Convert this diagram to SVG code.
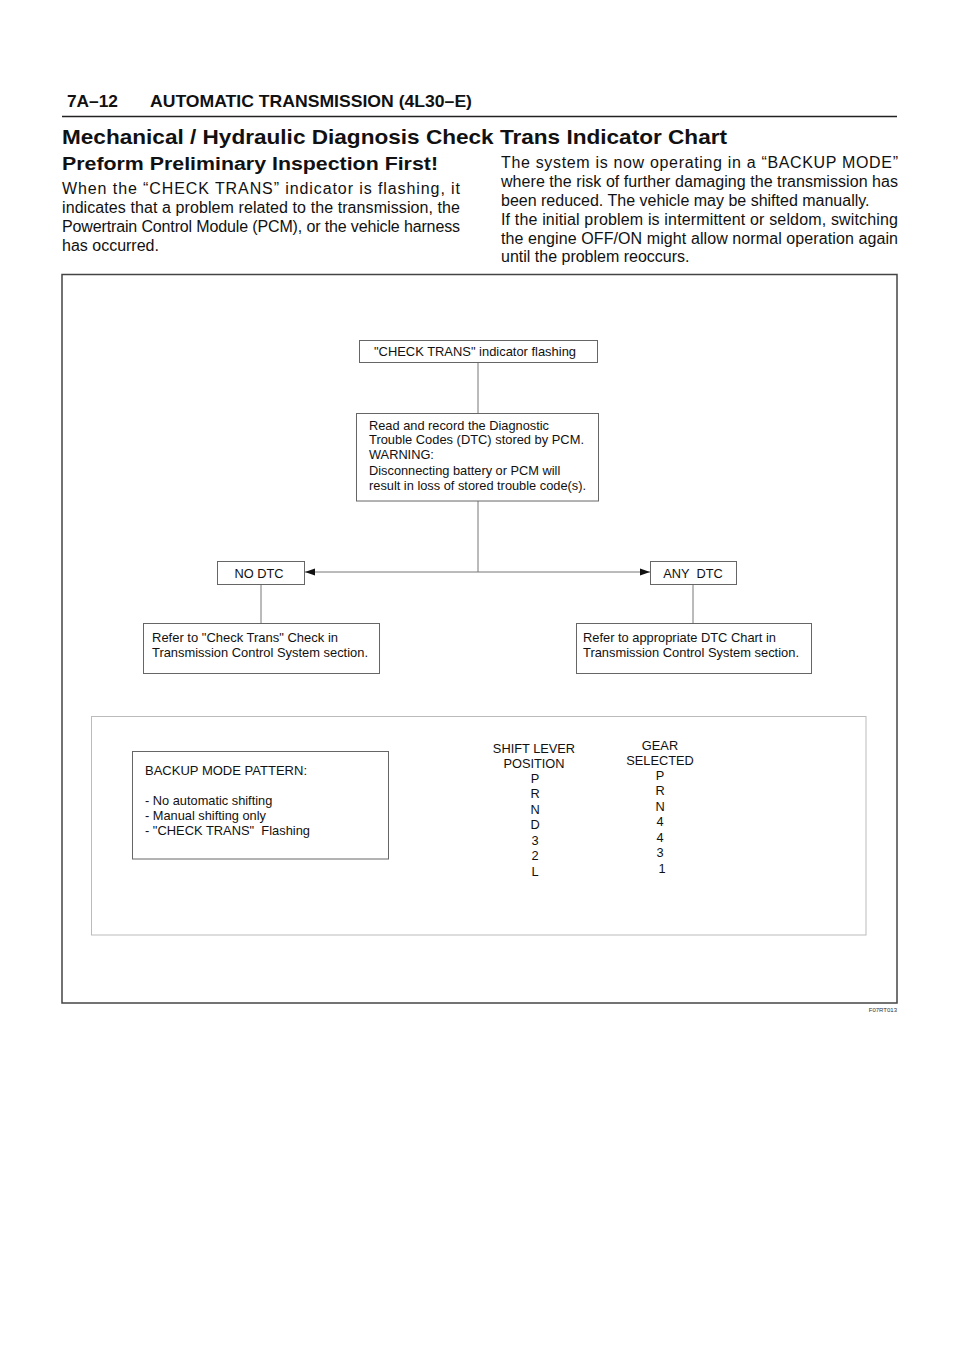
<svg xmlns="http://www.w3.org/2000/svg" width="960" height="1358" viewBox="0 0 960 1358">
<style>
.hd{font-family:"Liberation Sans",Arial,sans-serif;font-weight:bold;fill:#111}
.p{font-family:"Liberation Sans",Arial,sans-serif;font-size:16px;fill:#111}
.t{font-family:"Liberation Sans",Arial,sans-serif;font-size:12.8px;fill:#111}
.box{fill:#fff;stroke:#666;stroke-width:1}
.ln{stroke:#777;stroke-width:1;fill:none}
</style>
<defs>
<marker id="ah" viewBox="0 0 10 10" refX="10" refY="5" markerWidth="10" markerHeight="10" markerUnits="userSpaceOnUse" orient="auto-start-reverse">
<path d="M0,1.5 L10,5 L0,8.5 Z" fill="#111"/>
</marker>
</defs>
<rect width="960" height="1358" fill="#fff"/>
<g id="header">
<text class="hd" x="67" y="107" font-size="17" textLength="51" lengthAdjust="spacingAndGlyphs">7A–12</text>
<text class="hd" x="150" y="107" font-size="17" textLength="322" lengthAdjust="spacingAndGlyphs">AUTOMATIC TRANSMISSION (4L30–E)</text>
<line x1="62" y1="116.5" x2="897" y2="116.5" stroke="#222" stroke-width="1.5"/>
<text class="hd" x="62" y="144" font-size="21" textLength="665" lengthAdjust="spacingAndGlyphs">Mechanical / Hydraulic Diagnosis Check Trans Indicator Chart</text>
<text class="hd" x="62" y="170" font-size="18" textLength="376" lengthAdjust="spacingAndGlyphs">Preform Preliminary Inspection First!</text>
<text class="p" x="62" y="194" textLength="398" lengthAdjust="spacing">When the “CHECK TRANS” indicator is flashing, it</text>
<text class="p" x="62" y="213" textLength="398" lengthAdjust="spacing">indicates that a problem related to the transmission, the</text>
<text class="p" x="62" y="232" textLength="398" lengthAdjust="spacing">Powertrain Control Module (PCM), or the vehicle harness</text>
<text class="p" x="62" y="251">has occurred.</text>
<text class="p" x="501" y="168" textLength="397" lengthAdjust="spacing">The system is now operating in a “BACKUP MODE”</text>
<text class="p" x="501" y="187" textLength="397" lengthAdjust="spacing">where the risk of further damaging the transmission has</text>
<text class="p" x="501" y="206">been reduced. The vehicle may be shifted manually.</text>
<text class="p" x="501" y="225" textLength="397" lengthAdjust="spacing">If the initial problem is intermittent or seldom, switching</text>
<text class="p" x="501" y="244" textLength="397" lengthAdjust="spacing">the engine OFF/ON might allow normal operation again</text>
<text class="p" x="501" y="262">until the problem reoccurs.</text>
</g>
<rect id="frame" x="62" y="274.5" width="835" height="728.5" fill="none" stroke="#444" stroke-width="1.5"/>
<rect id="backup-panel" x="91.5" y="716.5" width="774.5" height="218.5" fill="none" stroke="#bbb" stroke-width="1"/>
<g id="connectors">
<line class="ln" x1="478" y1="362" x2="478" y2="413"/>
<line class="ln" x1="478" y1="501" x2="478" y2="572"/>
<line class="ln" x1="478" y1="572" x2="305" y2="572" marker-end="url(#ah)"/>
<line class="ln" x1="478" y1="572" x2="650" y2="572" marker-end="url(#ah)"/>
<line class="ln" x1="261" y1="584" x2="261" y2="623"/>
<line class="ln" x1="693" y1="584" x2="693" y2="623"/>
</g>
<g id="n-check">
<rect class="box" x="359.5" y="340.5" width="238" height="22"/>
<text class="t" x="475" y="355.5" text-anchor="middle" textLength="202" lengthAdjust="spacingAndGlyphs">"CHECK TRANS" indicator flashing</text>
</g>
<g id="n-read">
<rect class="box" x="356.5" y="413.5" width="242" height="87.5"/>
<text class="t" x="369" y="429.5">Read and record the Diagnostic</text>
<text class="t" x="369" y="443.5" textLength="215" lengthAdjust="spacingAndGlyphs">Trouble Codes (DTC) stored by PCM.</text>
<text class="t" x="369" y="458.5">WARNING:</text>
<text class="t" x="369" y="474.5">Disconnecting battery or PCM will</text>
<text class="t" x="369" y="489.5" textLength="217" lengthAdjust="spacingAndGlyphs">result in loss of stored trouble code(s).</text>
</g>
<g id="n-nodtc">
<rect class="box" x="217.5" y="561.5" width="87" height="23"/>
<text class="t" x="259" y="578" text-anchor="middle" font-size="12">NO DTC</text>
</g>
<g id="n-anydtc">
<rect class="box" x="650.5" y="561.5" width="86" height="23"/>
<text class="t" x="693" y="578" text-anchor="middle" font-size="12.5" xml:space="preserve">ANY  DTC</text>
</g>
<g id="n-refer-check">
<rect class="box" x="143.5" y="623.5" width="236" height="50"/>
<text class="t" x="152" y="641.5" textLength="186" lengthAdjust="spacingAndGlyphs">Refer to "Check Trans" Check in</text>
<text class="t" x="152" y="656.5" textLength="216" lengthAdjust="spacingAndGlyphs">Transmission Control System section.</text>
</g>
<g id="n-refer-dtc">
<rect class="box" x="576.5" y="623.5" width="235" height="50"/>
<text class="t" x="583" y="641.5" textLength="193" lengthAdjust="spacingAndGlyphs">Refer to appropriate DTC Chart in</text>
<text class="t" x="583" y="656.5" textLength="216" lengthAdjust="spacingAndGlyphs">Transmission Control System section.</text>
</g>
<g id="n-backup">
<rect class="box" x="132.5" y="751.5" width="256" height="107.5"/>
<text class="t" x="145" y="774.5" textLength="162" lengthAdjust="spacingAndGlyphs">BACKUP MODE PATTERN:</text>
<text class="t" x="145" y="804.5">- No automatic shifting</text>
<text class="t" x="145" y="819.5">- Manual shifting only</text>
<text class="t" x="145" y="834.5" xml:space="preserve" textLength="165" lengthAdjust="spacingAndGlyphs">- "CHECK TRANS"  Flashing</text>
</g>
<g id="shift-lever" text-anchor="middle">
<text class="t" x="534" y="753">SHIFT LEVER</text>
<text class="t" x="534" y="768">POSITION</text>
<text class="t" x="535" y="783">P</text>
<text class="t" x="535" y="798">R</text>
<text class="t" x="535" y="813.5">N</text>
<text class="t" x="535" y="829">D</text>
<text class="t" x="535" y="844.5">3</text>
<text class="t" x="535" y="860">2</text>
<text class="t" x="535" y="875.5">L</text>
</g>
<g id="gear-selected" text-anchor="middle">
<text class="t" x="660" y="749.5">GEAR</text>
<text class="t" x="660" y="765">SELECTED</text>
<text class="t" x="660" y="779.5">P</text>
<text class="t" x="660" y="795">R</text>
<text class="t" x="660" y="810.5">N</text>
<text class="t" x="660" y="826">4</text>
<text class="t" x="660" y="841.5">4</text>
<text class="t" x="660" y="857">3</text>
<text class="t" x="662" y="872.5">1</text>
</g>
<text x="897" y="1012" text-anchor="end" font-family="Liberation Sans,Arial,sans-serif" font-size="6" fill="#333">F07RT013</text>
</svg>
